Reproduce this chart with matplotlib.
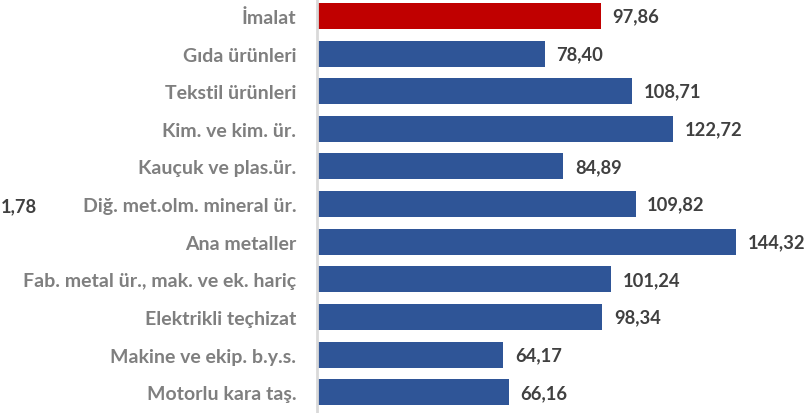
import numpy as np
import matplotlib
matplotlib.use('Agg')
import matplotlib.pyplot as plt

# veriler
kategoriler = ['İmalat', 'Gıda ürünleri', 'Tekstil ürünleri', 'Kim. ve kim. ür.',
               'Kauçuk ve plas.ür.', 'Diğ. met.olm. mineral ür.', 'Ana metaller',
               'Fab. metal ür., mak. ve ek. hariç', 'Elektrikli teçhizat',
               'Makine ve ekip. b.y.s.', 'Motorlu kara taş.']
degerler = [97.86, 78.40, 108.71, 122.72, 84.89, 109.82, 144.32, 101.24, 98.34, 64.17, 66.16]
etiketler = ['97,86', '78,40', '108,71', '122,72', '84,89', '109,82', '144,32',
             '101,24', '98,34', '64,17', '66,16']

plt.rcParams['font.family'] = ['Lato', 'DejaVu Sans']

fig = plt.figure(figsize=(8.06, 4.14), dpi=100)
ax = fig.add_axes([317 / 806, 0.0, 489 / 806, 1.0])

renkler = ['#C00000'] + ['#2F5597'] * (len(degerler) - 1)
y = np.arange(len(degerler))
ax.barh(y, degerler, height=0.69, color=renkler)

ax.set_xlim(0, 168.5)
ax.set_ylim(10.55, -0.45)

for i, (v, t) in enumerate(zip(degerler, etiketler)):
    ax.text(v + 4.0, i, t, va='center', ha='left', fontsize=13.2,
            fontweight='bold', color='#404040')

ax.set_yticks(y)
ax.set_yticklabels(kategoriler, fontsize=14, fontweight='bold', color='#7F7F7F')
ax.tick_params(axis='y', length=0, pad=15)
ax.set_xticks([])

for s in ['top', 'right', 'bottom']:
    ax.spines[s].set_visible(False)
ax.spines['left'].set_color('#D9D9D9')
ax.spines['left'].set_linewidth(2)

# soldan kesilmis etiket
fig.text(0.5 / 806, 1 - 207 / 414, '1,78', ha='left', va='center', fontsize=13.2,
         fontweight='bold', color='#404040')

fig.savefig('out.png', dpi=100)
